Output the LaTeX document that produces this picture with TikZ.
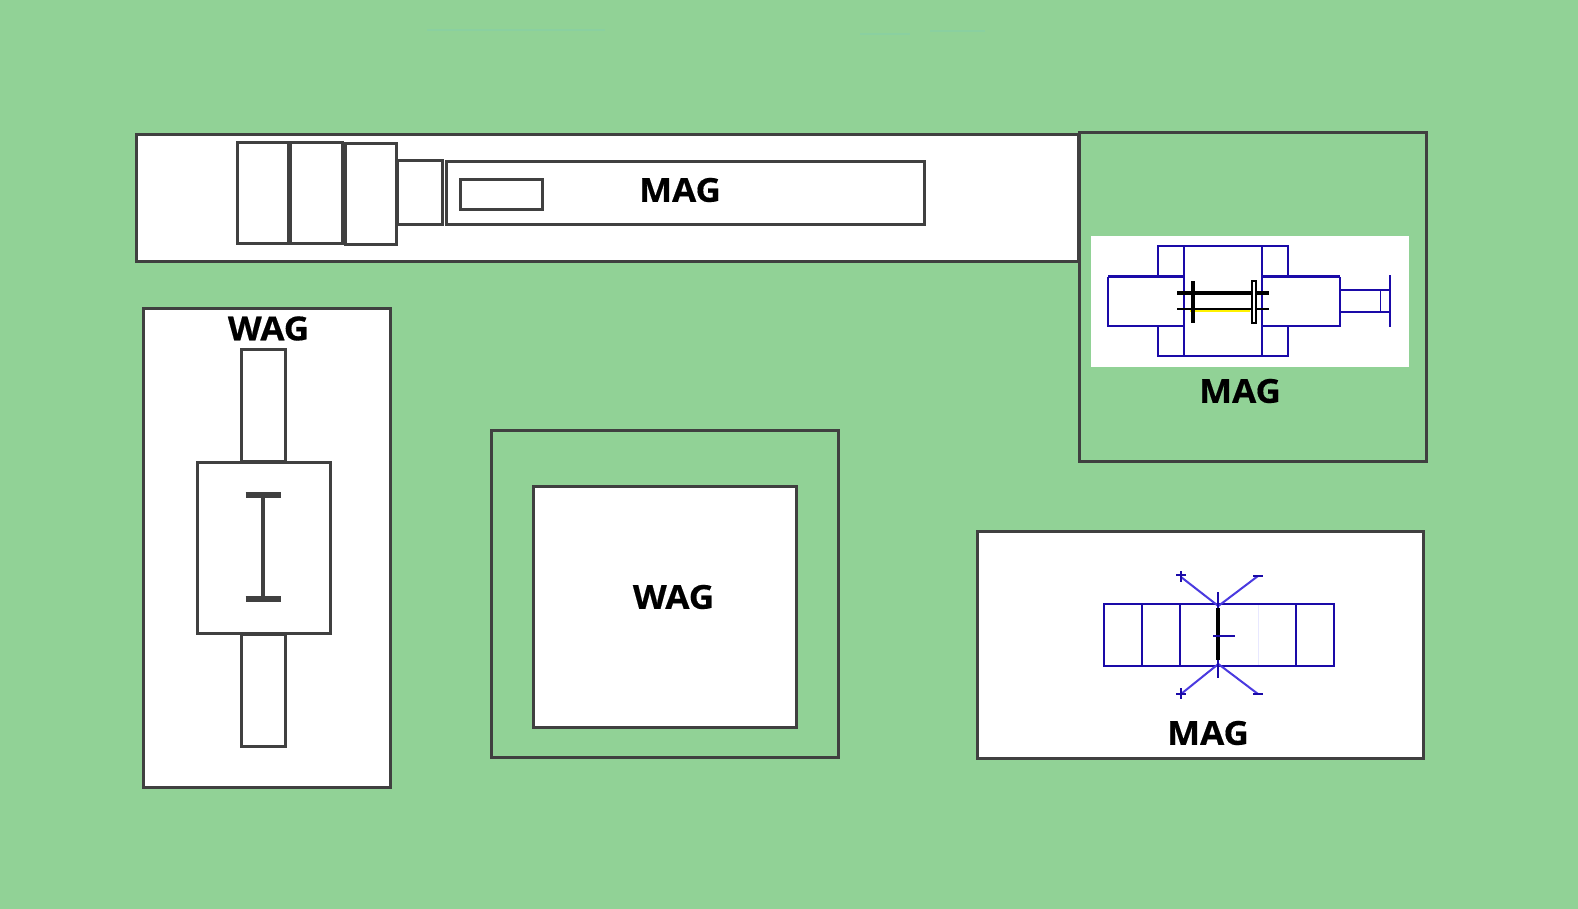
\documentclass[tikz,border=0pt]{standalone}
\usepackage{fontspec}
\setmainfont{Open Sans}
\newfontfamily\labfont[BoldFeatures={FakeStretch=1.06,FakeBold=0.5}]{Open Sans}
\definecolor{bggreen}{HTML}{91D296}
\definecolor{frame}{HTML}{404040}
\definecolor{navy}{HTML}{1A0AA8}
\definecolor{lightblue}{HTML}{4A3AE0}
\definecolor{streak}{HTML}{8AD0A0}
\definecolor{faintblue}{HTML}{E8E8FF}
\tikzset{
  box/.style={draw=frame,line width=1.5pt,fill=white},
  greenbox/.style={draw=frame,line width=1.5pt,fill=bggreen},
  part/.style={draw=frame,line width=1.5pt,fill=white},
  blue/.style={draw=navy,line width=1pt},
  bluethick/.style={draw=navy,line width=1.7pt},
  diag/.style={draw=lightblue,line width=1pt},
  blk/.style={draw=black,line width=2pt},
  lab/.style={font=\labfont\fontsize{16.5}{20}\selectfont\bfseries,text=black,inner sep=0pt}
}
\begin{document}
\begin{tikzpicture}[x=0.5pt,y=-0.5pt]
\fill[bggreen] (0,0) rectangle (1578,909);
\useasboundingbox (0,0) rectangle (1578,909);
\draw[streak,line width=0.8pt] (427,30) -- (605,30);
\draw[streak,line width=0.8pt] (860,34) -- (910,34);
\draw[streak,line width=0.8pt] (930,31) -- (985,31);
% top strip
\draw[box] (136,135) rectangle (1078,261);
\draw[part] (237,143) rectangle (288,244);
\draw[part] (290.5,143) rectangle (342.5,244);
\draw[part] (345,144) rectangle (396,245);
\draw[part] (397.5,161) rectangle (442,225);
\draw[part] (446,162) rectangle (924,225);
\draw[part] (460,180) rectangle (542,210);
\node[lab] (magA) at (680,190) {MAG};
% left panel
\draw[box] (143,308) rectangle (390.5,787);
\draw[part] (241.5,349) rectangle (285,461);
\draw[part] (241.5,634) rectangle (285,746);
\draw[part] (197,462) rectangle (330,633);
\draw[frame,line width=2.2pt] (263,495) -- (263,600);
\draw[frame,line width=2.8pt] (245.5,495) -- (281,495);
\draw[frame,line width=2.8pt] (245.5,599) -- (281,599);
\node[lab] (wagA) at (268.5,328.5) {WAG};
% centre panel
\draw[greenbox] (491,430) rectangle (838,757);
\draw[box] (533,486) rectangle (796,727);
\node[lab] (wagB) at (673.5,597) {WAG};
% top right panel
\draw[greenbox] (1079,133) rectangle (1426,461);
\fill[white] (1091,236) rectangle (1409,367);
\draw[blue] (1157.7,276) -- (1157.7,245.7) -- (1288,245.7) -- (1288,276);
\draw[blue] (1157.7,326) -- (1157.7,356) -- (1288,356) -- (1288,326);
\draw[blue] (1184,245.7) -- (1184,356);
\draw[blue] (1262,245.7) -- (1262,356);
\draw[blue] (1184,326) -- (1108,326) -- (1108,276.7);
\draw[bluethick] (1108,276.7) -- (1184,276.7);
\draw[blue] (1262,326) -- (1340,326) -- (1340,276.7);
\draw[bluethick] (1262,276.7) -- (1340,276.7);
\draw[blue] (1340,290) -- (1390,290);
\draw[blue] (1340,311.7) -- (1390,311.7);
\draw[blue,line width=0.5pt] (1380,290) -- (1380,311.7);
\draw[blue] (1390,275) -- (1390,326.7);
\draw[yellow,line width=1pt] (1190,311) -- (1250,311);
\draw[black,line width=1.9pt] (1177,292.7) -- (1269,292.7);
\draw[black,line width=1.2pt] (1177,308.7) -- (1269,308.7);
\draw[black,line width=2pt] (1193,281) -- (1193,322.7);
\draw[black,line width=0.9pt,fill=white] (1251.7,281) rectangle (1256,322.7);
\node[lab] (magB) at (1240,391) {MAG};
% bottom right panel
\draw[box] (977,531) rectangle (1423,758);
\draw[faintblue,line width=0.4pt] (1258,604) -- (1258,666);
\draw[blue] (1103.7,604) rectangle (1334,666);
\draw[blue] (1142,604) -- (1142,666);
\draw[blue] (1180,604) -- (1180,666);
\draw[blue] (1296,604) -- (1296,666);
\draw[diag] (1218.3,606) -- (1181,577);
\draw[diag] (1218.3,606) -- (1258,576);
\draw[diag] (1218.3,664) -- (1181,694);
\draw[diag] (1218.3,664) -- (1258,694);
\draw[blue] (1181,571) -- (1181,582);
\draw[blue] (1176,575) -- (1186,575);
\draw[blue] (1253,576) -- (1263,576);
\draw[blue] (1181,688) -- (1181,699);
\draw[blue] (1176,694) -- (1186,694);
\draw[blue] (1253,694) -- (1263,694);
\draw[blue] (1218.3,592) -- (1218.3,678);
\draw[blk] (1218.3,608) -- (1218.3,660);
\draw[blue] (1213,635.7) -- (1235,635.7);
\node[lab] (magC) at (1208,733) {MAG};
\end{tikzpicture}
\end{document}
